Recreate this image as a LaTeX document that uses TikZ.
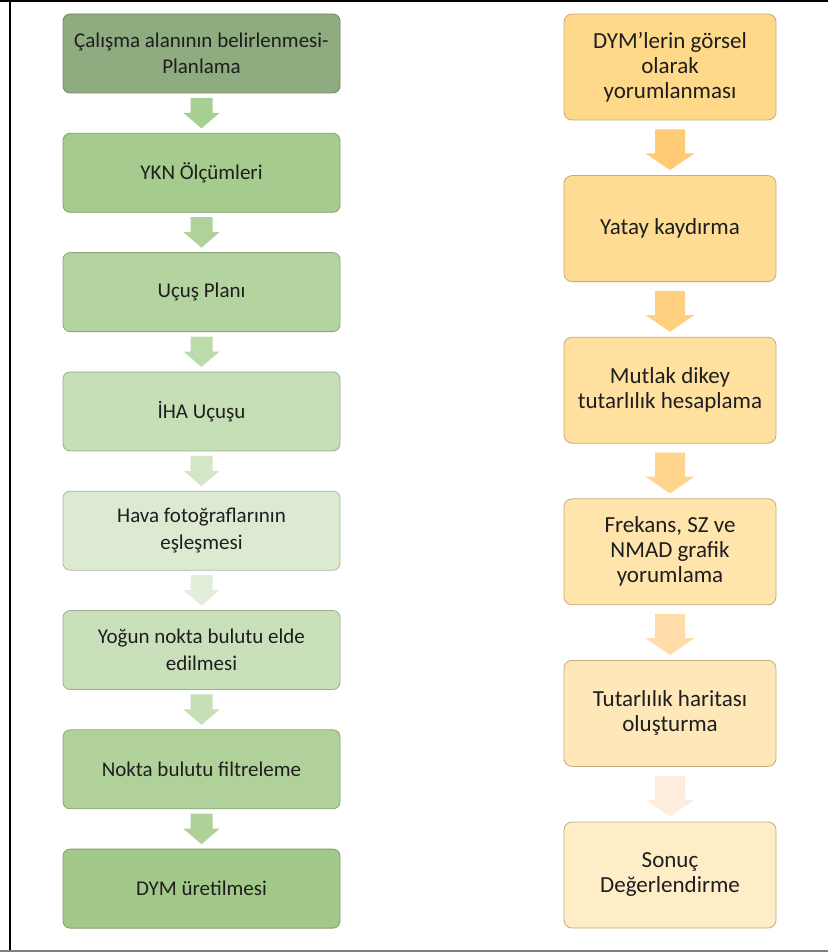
\documentclass[tikz,border=0pt]{standalone}
\usepackage{fontspec}
\setmainfont{Carlito}
\usetikzlibrary{calc}
\definecolor{txt}{HTML}{1E1E1E}
\definecolor{lc1}{HTML}{8FAB80}
\definecolor{lc2}{HTML}{A6CB8E}
\definecolor{lc3}{HTML}{B4D49F}
\definecolor{lc4}{HTML}{C6DFB6}
\definecolor{lc5}{HTML}{DCEAD2}
\definecolor{lc6}{HTML}{C9E0BA}
\definecolor{lc7}{HTML}{B0D29A}
\definecolor{lc8}{HTML}{A3C98A}
\definecolor{la1}{HTML}{A8CF92}
\definecolor{la2}{HTML}{AFD29A}
\definecolor{la3}{HTML}{BDDAAA}
\definecolor{la4}{HTML}{D3E6C6}
\definecolor{la5}{HTML}{E2EEDA}
\definecolor{la6}{HTML}{C7DFB6}
\definecolor{la7}{HTML}{ADD197}
\definecolor{rc1}{HTML}{FFD98A}
\definecolor{rc2}{HTML}{FFDC93}
\definecolor{rc3}{HTML}{FFE09F}
\definecolor{rc4}{HTML}{FFE4AB}
\definecolor{rc5}{HTML}{FEE8B9}
\definecolor{rc6}{HTML}{FEEDC7}
\definecolor{ra1}{HTML}{FFCB74}
\definecolor{ra2}{HTML}{FFD07F}
\definecolor{ra3}{HTML}{FFD48C}
\definecolor{ra4}{HTML}{FFDCAA}
\definecolor{ra5}{HTML}{FEECDD}
\definecolor{rborder}{HTML}{C8AA78}
\definecolor{framegray}{HTML}{7F7F7F}
\newcommand\lflow[3]{%
  \fill[#3] ($(#1.south)+(-11,4.5)$) -- ($(#1.south)+(11,4.5)$)
    -- ($(#1.south)+(11,19.5)$) -- ($(#1.south)+(18,19.5)$)
    -- ($(#2.north)+(0,-4.5)$)
    -- ($(#1.south)+(-18,19.5)$) -- ($(#1.south)+(-11,19.5)$) -- cycle;}
\newcommand\rflow[3]{%
  \fill[#3] ($(#1.south)+(-15,9)$) -- ($(#1.south)+(15,9)$)
    -- ($(#1.south)+(15,33)$) -- ($(#1.south)+(24.5,33)$)
    -- ($(#2.north)+(0,-5)$)
    -- ($(#1.south)+(-24.5,33)$) -- ($(#1.south)+(-15,33)$) -- cycle;}
\begin{document}
\begin{tikzpicture}[x=1pt,y=-1pt,
  lbox/.style={rectangle, rounded corners=7pt, minimum width=277pt,
    minimum height=79pt, align=center, text=txt, line width=0.8pt,
    font=\fontsize{21}{26.5}\selectfont, fill=#1, draw=#1!78!black},
  rbox/.style={rectangle, rounded corners=8pt, minimum width=212pt,
    minimum height=106pt, align=center, text=txt, line width=0.8pt,
    font=\fontsize{23}{25}\selectfont, fill=#1, draw=rborder}]
\useasboundingbox (0,0) rectangle (828,952);
% frame
\draw[line width=2.5pt] (0,1.2) -- (828,1.2);
\draw[line width=2.5pt] (10,0) -- (10,950);
\draw[line width=2pt, framegray] (0,951) -- (828,951);
% left column
\node[lbox=lc1] (l1) at (201.5,53.5) {Çalışma alanının belirlenmesi-\\Planlama};
\node[lbox=lc2] (l2) at (201.5,172.8) {YKN Ölçümleri};
\node[lbox=lc3] (l3) at (201.5,292.1) {Uçuş Planı};
\node[lbox=lc4] (l4) at (201.5,411.4) {İHA Uçuşu};
\node[lbox=lc5] (l5) at (201.5,530.7) {Hava fotoğraflarının\\eşleşmesi};
\node[lbox=lc6] (l6) at (201.5,650.0) {Yoğun nokta bulutu elde\\edilmesi};
\node[lbox=lc7] (l7) at (201.5,769.3) {Nokta bulutu filtreleme};
\node[lbox=lc8] (l8) at (201.5,888.6) {DYM üretilmesi};
\lflow{l1}{l2}{la1}
\lflow{l2}{l3}{la2}
\lflow{l3}{l4}{la3}
\lflow{l4}{l5}{la4}
\lflow{l5}{l6}{la5}
\lflow{l6}{l7}{la6}
\lflow{l7}{l8}{la7}
% right column
\node[rbox=rc1] (r1) at (670,67.0) {DYM’lerin görsel\\olarak\\yorumlanması};
\node[rbox=rc2] (r2) at (670,228.6) {Yatay kaydırma};
\node[rbox=rc3] (r3) at (670,390.2) {Mutlak dikey\\tutarlılık hesaplama};
\node[rbox=rc4] (r4) at (670,551.8) {Frekans, SZ ve\\NMAD grafik\\yorumlama};
\node[rbox=rc5] (r5) at (670,713.4) {Tutarlılık haritası\\oluşturma};
\node[rbox=rc6] (r6) at (670,875.0) {Sonuç\\Değerlendirme};
\rflow{r1}{r2}{ra1}
\rflow{r2}{r3}{ra2}
\rflow{r3}{r4}{ra3}
\rflow{r4}{r5}{ra4}
\rflow{r5}{r6}{ra5}
\end{tikzpicture}
\end{document}
